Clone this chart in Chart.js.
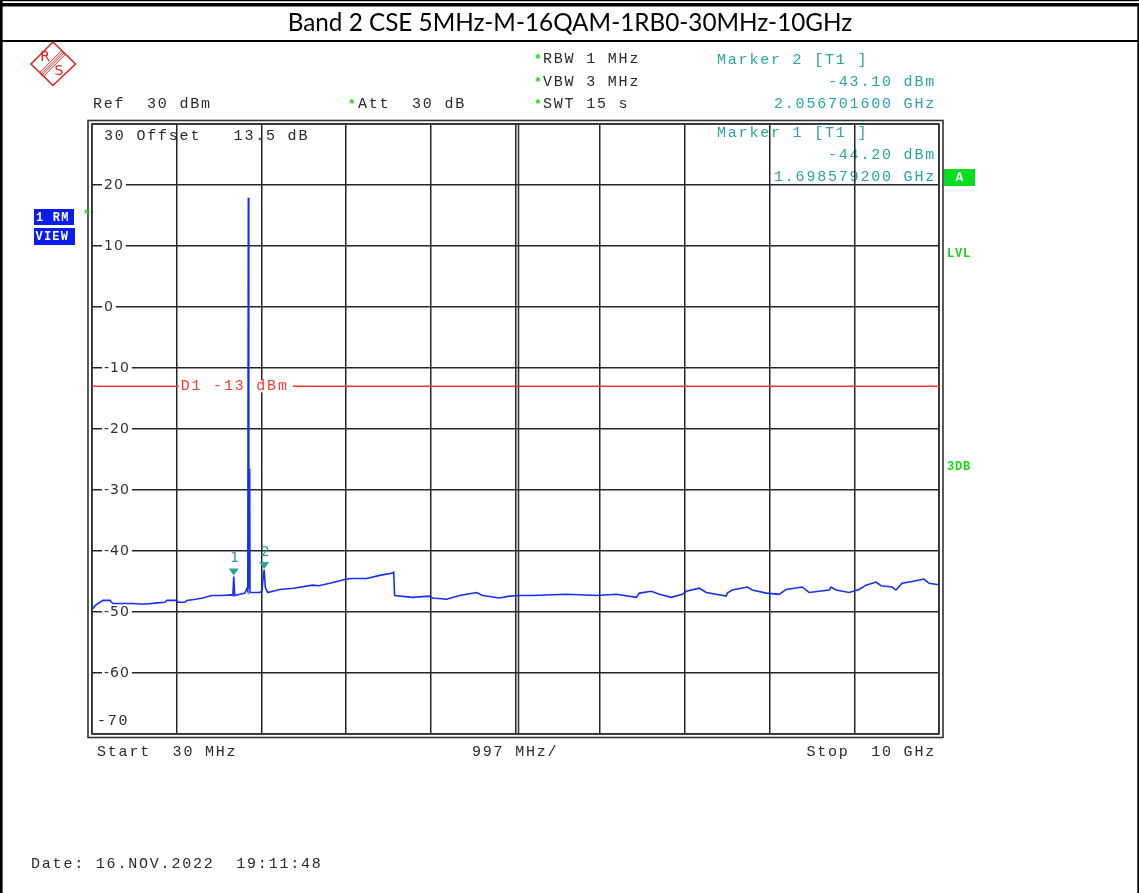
<!DOCTYPE html>
<html>
<head>
<meta charset="utf-8">
<script src="https://cdn.jsdelivr.net/npm/chart.js@4.4.0/dist/chart.umd.min.js"></script>
<style>
html,body{margin:0;padding:0;background:#fff;}
#wrap{position:relative;width:1139px;height:893px;}
canvas{display:block;}
</style>
</head>
<body>
<div id="wrap"><canvas id="c" width="1139" height="893"></canvas></div>
<script>
// ---------- DATA ----------
const titleText = 'Band 2 CSE 5MHz-M-16QAM-1RB0-30MHz-10GHz';
const startFreqMHz = 30;
const stopFreqMHz = 10000;
const spanPerDivMHz = 997;
const refLevelDbm = 30;
const bottomLevelDbm = -70;
const yTickValues = [20, 10, 0, -10, -20, -30, -40, -50, -60];
const yTickLabels = ['20', '10', '0', '-10', '-20', '-30', '-40', '-50', '-60'];
const displayLineDbm = -13;
const displayLineLabel = 'D1 -13 dBm';

// trace (frequency in MHz, level in dBm)
const freqMHz = [30, 42, 65, 100, 159, 242, 260, 277, 400, 512, 600, 677, 800, 888, 912, 1029, 1041, 1123, 1147, 1250,
  1335, 1441, 1550, 1676, 1688, 1698.6, 1710, 1735, 1829, 1852, 1864, 1870, 1874, 1878, 1882, 1886, 1890,
  1911, 2005, 2030, 2040, 2056.7, 2070, 2099, 2240, 2400, 2628, 2700, 2828, 3028, 3100, 3263, 3416, 3569, 3581, 3592,
  3804, 4004, 4039, 4204, 4357, 4557, 4627, 4827, 4944, 5062, 5215, 5615, 5967, 6202, 6437, 6473, 6614, 6708,
  6849, 6978, 7026, 7178, 7261, 7496, 7508, 7566, 7743, 7802, 7966, 8119, 8201, 8389, 8472, 8707, 8730, 8789,
  8942, 9059, 9142, 9259, 9318, 9447, 9494, 9565, 9683, 9824, 9883, 9977, 10000];
const levelDbm = [-49.5, -49.4, -49.0, -48.6, -48.1, -48.1, -48.4, -48.6, -48.6, -48.6, -48.7, -48.7, -48.5, -48.4, -48.1, -48.1, -48.4, -48.4, -48.1, -47.9,
  -47.7, -47.3, -47.3, -47.2, -47.3, -44.2, -47.3, -47.2, -46.9, -46.2, -46.6, 17.9, -46.0, -25.8, -46.0, -26.5, -46.8,
  -46.8, -46.8, -46.6, -45.0, -43.1, -46.0, -46.8, -46.3, -46.1, -45.6, -45.7, -45.3, -44.6, -44.5, -44.5, -44.0, -43.6, -43.5, -47.3,
  -47.6, -47.4, -47.7, -47.9, -47.3, -46.8, -47.3, -47.7, -47.4, -47.3, -47.3, -47.1, -47.3, -47.1, -47.6, -46.9, -46.6, -47.1,
  -47.6, -47.1, -46.6, -46.1, -46.8, -47.4, -46.9, -46.4, -45.9, -46.4, -46.9, -47.1, -46.3, -45.9, -46.8, -46.4, -45.9, -46.4,
  -46.8, -46.3, -45.6, -45.1, -45.7, -45.9, -46.4, -45.3, -45.0, -44.6, -45.3, -45.5, -45.5];

// markers
const markerNames = ['1', '2'];
const markerFreqMHz = [1698.5792, 2056.7016];
const markerLevelDbm = [-44.20, -43.10];

// ---------- helpers ----------
const xGridValues = [];
for (let i = 0; i <= 10; i++) xGridValues.push(startFreqMHz + i * spanPerDivMHz);

const MONO = '"Liberation Mono", "DejaVu Sans Mono", monospace';
const MONO_FONT = '15px ' + MONO;
const MONO_LS = 1.8;
const TEAL = '#27a5a3';
const DARK = '#2a2a2a';
const GREEN = '#19d619';

function txt(ctx, s, x, y, opt) {
  opt = opt || {};
  ctx.save();
  ctx.font = opt.font || MONO_FONT;
  ctx.fillStyle = opt.color || DARK;
  ctx.textAlign = opt.align || 'left';
  ctx.textBaseline = 'middle';
  if ('letterSpacing' in ctx) ctx.letterSpacing = (opt.ls !== undefined ? opt.ls : MONO_LS) + 'px';
  ctx.fillText(s, x, y);
  const w = ctx.measureText(s).width;
  ctx.restore();
  return w;
}
function star(ctx, x, y) {
  txt(ctx, '*', x, y + 1, {font: 'bold 13px ' + MONO, color: GREEN, ls: 0});
}

const decorPlugin = {
  id: 'decor',
  beforeDraw(chart) {
    const ctx = chart.ctx;
    ctx.save();
    ctx.fillStyle = '#fff';
    ctx.fillRect(0, 0, chart.width, chart.height);
    // page frame
    ctx.fillStyle = '#000';
    ctx.fillRect(0, 0, 1139, 1.2);
    ctx.fillRect(0, 3, 1139, 3.5);
    ctx.fillRect(0, 0, 2.6, 893);
    ctx.fillRect(1137.3, 4, 1.7, 889);
    ctx.fillRect(0, 40, 1139, 2);
    // title
    txt(ctx, titleText, 570, 23, {font: '24.3px Lato, "Open Sans", sans-serif', color: '#000', align: 'center', ls: 0});

    // R&S logo
    ctx.strokeStyle = '#e0201c';
    ctx.lineWidth = 1.5;
    ctx.beginPath();
    ctx.moveTo(53, 42); ctx.lineTo(75.5, 64); ctx.lineTo(53, 85.5); ctx.lineTo(31, 64); ctx.closePath();
    ctx.stroke();
    ctx.lineWidth = 0.9;
    for (const d of [-2.7, -0.9, 0.9, 2.7]) {
      const ox = d * 0.707, oy = d * 0.707;
      ctx.beginPath();
      ctx.moveTo(64 + ox, 52 + oy); ctx.lineTo(41 + ox, 75 + oy); ctx.stroke();
    }
    txt(ctx, 'R', 45, 57, {font: '14px "DejaVu Sans", sans-serif', color: '#e0201c', align: 'center', ls: 0});
    txt(ctx, 'S', 59, 71, {font: '14px "DejaVu Sans", sans-serif', color: '#e0201c', align: 'center', ls: 0});

    // header text
    txt(ctx, 'Ref  30 dBm', 93, 104);
    star(ctx, 348, 104); txt(ctx, 'Att  30 dB', 358, 104);
    star(ctx, 534, 59); txt(ctx, 'RBW 1 MHz', 543, 59);
    star(ctx, 534, 82); txt(ctx, 'VBW 3 MHz', 543, 82);
    star(ctx, 534, 104); txt(ctx, 'SWT 15 s', 543, 104);
    txt(ctx, 'Marker 2 [T1 ]', 717, 60, {color: TEAL});
    txt(ctx, '-43.10 dBm', 936, 82, {color: TEAL, align: 'right'});
    txt(ctx, '2.056701600 GHz', 936, 104, {color: TEAL, align: 'right'});
    // texts lying under the grid
    txt(ctx, 'Marker 1 [T1 ]', 717, 133, {color: TEAL});
    txt(ctx, '-44.20 dBm', 936, 155, {color: TEAL, align: 'right'});
    txt(ctx, '1.698579200 GHz', 936, 177, {color: TEAL, align: 'right'});
    txt(ctx, '30 Offset   13.5 dB', 104, 136);
    ctx.restore();
  },
  beforeDatasetsDraw(chart) {
    const ctx = chart.ctx;
    const a = chart.chartArea;
    const ys = chart.scales.y, xs = chart.scales.x;
    ctx.save();
    // double frame
    ctx.strokeStyle = '#333';
    ctx.lineWidth = 1.6;
    ctx.strokeRect(a.left - 4, a.top - 3.5, (a.right - a.left) + 8, (a.bottom - a.top) + 7);
    ctx.strokeRect(a.left, a.top, a.right - a.left, a.bottom - a.top);
    // centre double line
    const cx = xs.getPixelForValue(xGridValues[5]);
    ctx.beginPath(); ctx.moveTo(cx + 3, a.top); ctx.lineTo(cx + 3, a.bottom); ctx.stroke();
    // y labels with white gap
    const yFont = '14px "DejaVu Sans", sans-serif';
    yTickValues.forEach((v, i) => {
      const y = ys.getPixelForValue(v);
      ctx.font = yFont;
      if ('letterSpacing' in ctx) ctx.letterSpacing = '1px';
      const w = ctx.measureText(yTickLabels[i]).width;
      ctx.fillStyle = '#fff';
      ctx.fillRect(a.left + 10, y - 3, w + 4, 6);
      txt(ctx, yTickLabels[i], a.left + 12, y, {font: yFont, color: '#333', ls: 1});
    });
    txt(ctx, String(bottomLevelDbm), a.left + 5, a.bottom - 13);
    // display line D1
    const yd = ys.getPixelForValue(displayLineDbm);
    ctx.strokeStyle = '#ff3b30';
    ctx.lineWidth = 1.5;
    ctx.beginPath(); ctx.moveTo(a.left, yd); ctx.lineTo(a.right, yd); ctx.stroke();
    const lx = xs.getPixelForValue(xGridValues[1]) + 2;
    ctx.font = MONO_FONT;
    if ('letterSpacing' in ctx) ctx.letterSpacing = MONO_LS + 'px';
    const lw = ctx.measureText(displayLineLabel).width;
    ctx.fillStyle = '#fff';
    ctx.fillRect(lx, yd - 6, lw + 6, 12);
    txt(ctx, displayLineLabel, lx + 2, yd, {color: '#ff3b30'});
    ctx.restore();
  },
  afterDatasetsDraw(chart) {
    const ctx = chart.ctx;
    const ys = chart.scales.y, xs = chart.scales.x;
    ctx.save();
    markerNames.forEach((n, i) => {
      const x = xs.getPixelForValue(markerFreqMHz[i]);
      const y = ys.getPixelForValue(markerLevelDbm[i]);
      ctx.fillStyle = TEAL;
      ctx.beginPath();
      ctx.moveTo(x, y - 1); ctx.lineTo(x - 5, y - 8); ctx.lineTo(x + 5, y - 8); ctx.closePath();
      ctx.fill();
      txt(ctx, n, x + 1, y - 18, {font: '14px "DejaVu Sans", sans-serif', color: TEAL, align: 'center', ls: 0});
    });
    ctx.restore();
  },
  afterDraw(chart) {
    const ctx = chart.ctx;
    ctx.save();
    // side boxes
    ctx.fillStyle = '#0a1cf0';
    ctx.fillRect(34, 209, 40, 16);
    ctx.fillRect(34, 228, 41, 17);
    txt(ctx, '1 RM', 36, 217.5, {font: 'bold 12px ' + MONO, color: '#fff', ls: 1.2});
    txt(ctx, 'VIEW', 35.5, 236.5, {font: 'bold 12px ' + MONO, color: '#fff', ls: 1.2});
    star(ctx, 83, 214);
    ctx.fillStyle = '#00e020';
    ctx.fillRect(944, 169, 31, 17);
    txt(ctx, 'A', 959.5, 177.5, {font: 'bold 13px ' + MONO, color: '#fff', align: 'center', ls: 0});
    txt(ctx, 'LVL', 947, 254, {font: 'bold 12px ' + MONO, color: GREEN, ls: 0.8});
    txt(ctx, '3DB', 947, 467, {font: 'bold 12px ' + MONO, color: GREEN, ls: 0.8});
    // bottom texts
    txt(ctx, 'Start  30 MHz', 97, 752);
    txt(ctx, spanPerDivMHz + ' MHz/', 472, 752);
    txt(ctx, 'Stop  10 GHz', 936, 752, {align: 'right'});
    txt(ctx, 'Date: 16.NOV.2022  19:11:48', 31, 864);
    ctx.restore();
  }
};

const ctx = document.getElementById('c').getContext('2d');
new Chart(ctx, {
  type: 'line',
  data: {
    datasets: [{
      data: freqMHz.map((f, i) => ({x: f, y: levelDbm[i]})),
      borderColor: '#1530f2',
      borderWidth: 1.6,
      pointRadius: 0,
      tension: 0,
      fill: false
    }]
  },
  options: {
    responsive: false,
    animation: false,
    devicePixelRatio: 1,
    layout: {padding: {left: 92, right: 200, top: 124, bottom: 159}},
    plugins: {legend: {display: false}, tooltip: {enabled: false}, title: {display: false}},
    scales: {
      x: {
        type: 'linear', min: startFreqMHz, max: stopFreqMHz,
        afterBuildTicks: s => { s.ticks = xGridValues.map(v => ({value: v})); },
        ticks: {display: false},
        grid: {color: '#262626', lineWidth: 1.5, drawTicks: false},
        border: {display: false}
      },
      y: {
        type: 'linear', min: bottomLevelDbm, max: refLevelDbm,
        ticks: {display: false, stepSize: 10},
        grid: {color: '#262626', lineWidth: 1.5, drawTicks: false},
        border: {display: false}
      }
    }
  },
  plugins: [decorPlugin]
});
</script>
</body>
</html>
